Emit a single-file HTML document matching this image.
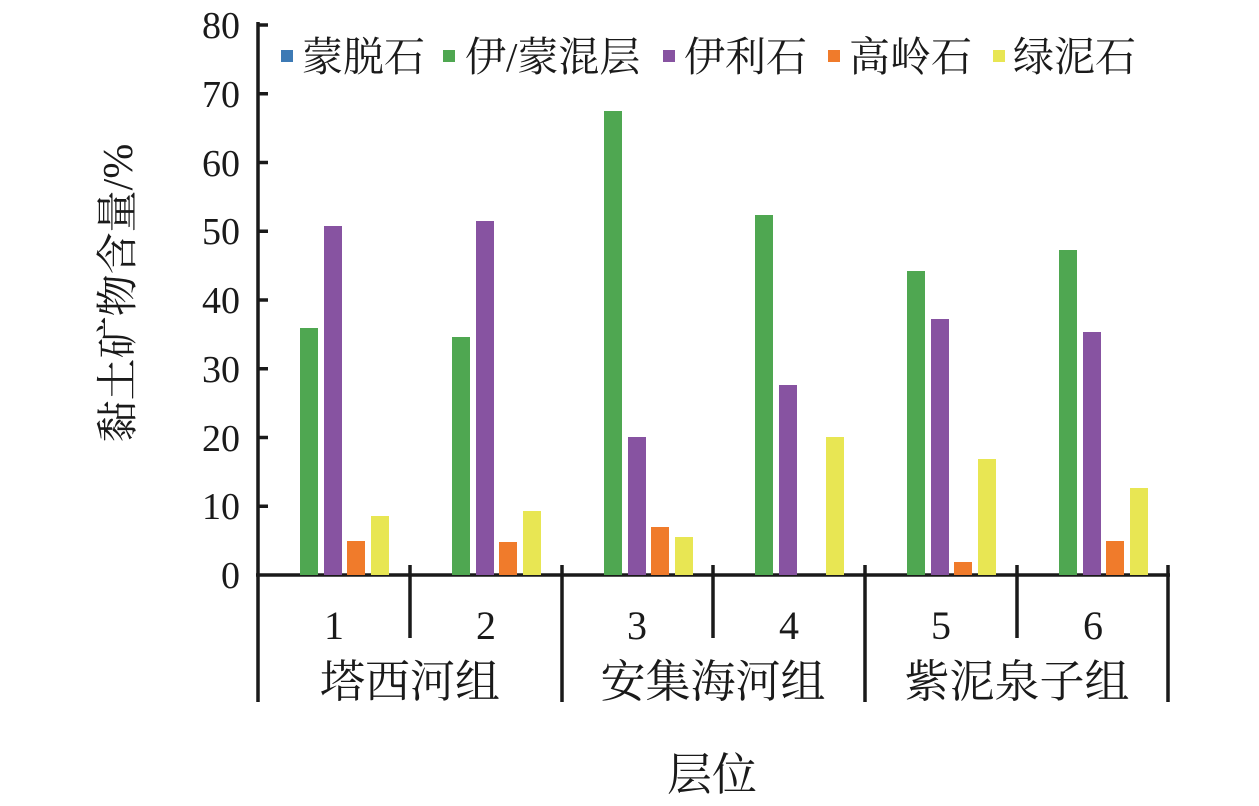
<!DOCTYPE html>
<html><head><meta charset="utf-8"><style>
html,body{margin:0;padding:0;background:#fff;}
text{font-family:"Liberation Serif","Noto Serif CJK SC",serif;fill:#1a1a1a;}
</style></head><body>
<svg width="1259" height="801" viewBox="0 0 1259 801" xmlns="http://www.w3.org/2000/svg">
<g stroke="#1a1a1a" stroke-width="3.5">
<line x1="258" y1="22" x2="258" y2="702"/>
<line x1="256" y1="575" x2="1170" y2="575"/>
<line x1="258" y1="25" x2="268" y2="25"/>
<line x1="258" y1="93.75" x2="268" y2="93.75"/>
<line x1="258" y1="162.5" x2="268" y2="162.5"/>
<line x1="258" y1="231.25" x2="268" y2="231.25"/>
<line x1="258" y1="300" x2="268" y2="300"/>
<line x1="258" y1="368.75" x2="268" y2="368.75"/>
<line x1="258" y1="437.5" x2="268" y2="437.5"/>
<line x1="258" y1="506.25" x2="268" y2="506.25"/>
<line x1="410" y1="565" x2="410" y2="638"/>
<line x1="713" y1="565" x2="713" y2="638"/>
<line x1="1017" y1="565" x2="1017" y2="638"/>
<line x1="562" y1="565" x2="562" y2="702"/>
<line x1="865" y1="565" x2="865" y2="702"/>
<line x1="1168" y1="565" x2="1168" y2="702"/>
</g>
<g font-size="38" text-anchor="end">
<text x="240" y="38">80</text><text x="240" y="107">70</text><text x="240" y="176">60</text>
<text x="240" y="244">50</text><text x="240" y="313">40</text><text x="240" y="382">30</text>
<text x="240" y="451">20</text><text x="240" y="519">10</text><text x="240" y="588">0</text>
</g>
<g>
<rect x="300" y="328" width="18" height="247" fill="#4fa751"/>
<rect x="324" y="226" width="18" height="349" fill="#8753a1"/>
<rect x="347" y="541" width="18" height="34" fill="#f07b2b"/>
<rect x="371" y="516" width="18" height="59" fill="#e8e653"/>

<rect x="452" y="337" width="18" height="238" fill="#4fa751"/>
<rect x="476" y="221" width="18" height="354" fill="#8753a1"/>
<rect x="499" y="542" width="18" height="33" fill="#f07b2b"/>
<rect x="523" y="511" width="18" height="64" fill="#e8e653"/>

<rect x="604" y="111" width="18" height="464" fill="#4fa751"/>
<rect x="628" y="437" width="18" height="138" fill="#8753a1"/>
<rect x="651" y="527" width="18" height="48" fill="#f07b2b"/>
<rect x="675" y="537" width="18" height="38" fill="#e8e653"/>

<rect x="755" y="215" width="18" height="360" fill="#4fa751"/>
<rect x="779" y="385" width="18" height="190" fill="#8753a1"/>
<rect x="826" y="437" width="18" height="138" fill="#e8e653"/>

<rect x="907" y="271" width="18" height="304" fill="#4fa751"/>
<rect x="931" y="319" width="18" height="256" fill="#8753a1"/>
<rect x="954" y="562" width="18" height="13" fill="#f07b2b"/>
<rect x="978" y="459" width="18" height="116" fill="#e8e653"/>

<rect x="1059" y="250" width="18" height="325" fill="#4fa751"/>
<rect x="1083" y="332" width="18" height="243" fill="#8753a1"/>
<rect x="1106" y="541" width="18" height="34" fill="#f07b2b"/>
<rect x="1130" y="488" width="18" height="87" fill="#e8e653"/>
</g>
<g font-size="40" text-anchor="middle">
<text x="334" y="639">1</text><text x="486" y="639">2</text><text x="637" y="639">3</text>
<text x="789" y="639">4</text><text x="941" y="639">5</text><text x="1093" y="639">6</text>
</g>
<g font-size="45" text-anchor="middle">
<text x="410" y="697">塔西河组</text><text x="713" y="697">安集海河组</text><text x="1017" y="697">紫泥泉子组</text>
<text x="712" y="790">层位</text>
</g>
<text font-size="42" text-anchor="middle" transform="translate(132,293) rotate(-90)">黏土矿物含量/%</text>
<g font-size="41">
<rect x="281" y="50" width="12" height="12" fill="#3d7ab5"/><text x="302" y="71">蒙脱石</text>
<rect x="443" y="50" width="12" height="12" fill="#4fa751"/><text x="465" y="71">伊/蒙混层</text>
<rect x="663" y="50" width="12" height="12" fill="#8753a1"/><text x="684" y="71">伊利石</text>
<rect x="828" y="50" width="12" height="12" fill="#f07b2b"/><text x="849" y="71">高岭石</text>
<rect x="993" y="50" width="12" height="12" fill="#e8e653"/><text x="1013" y="71">绿泥石</text>
</g>
</svg>
</body></html>
